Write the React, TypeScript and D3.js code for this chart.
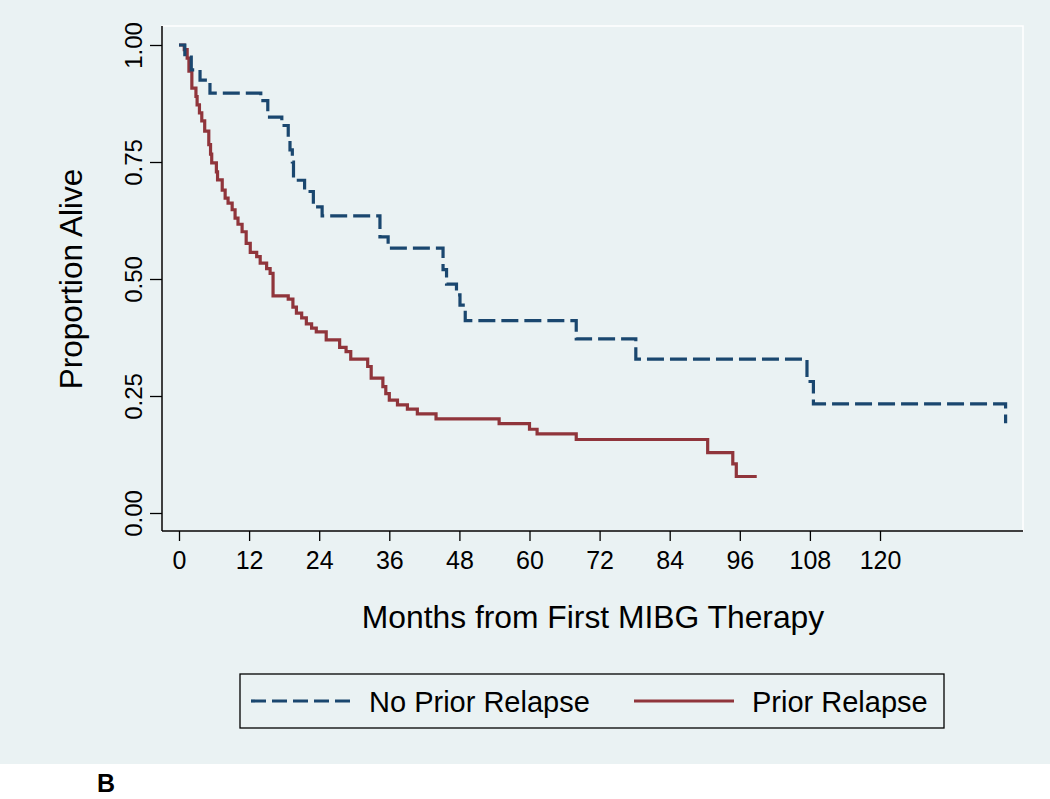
import React, { useEffect, useRef } from "react";
import * as d3 from "d3";

// Kaplan-Meier steps: [month, survival after the event]
const noPriorSteps: [number, number][] = [
  [1.0, 0.974], [2.1, 0.947], [3.6, 0.925], [5.3, 0.897], [14.0, 0.881],
  [15.2, 0.846], [17.6, 0.828], [18.7, 0.802], [19.0, 0.776], [19.4, 0.75],
  [19.6, 0.711], [21.5, 0.687], [23.0, 0.654], [24.5, 0.635], [34.4, 0.59],
  [35.8, 0.566], [45.2, 0.52], [45.8, 0.489], [47.5, 0.466], [48.1, 0.444],
  [49.0, 0.411], [68.0, 0.372], [78.2, 0.329], [107.5, 0.281], [108.6, 0.233],
  [141.5, 0.192],
];
const noPriorEnd = 141.5;

const priorSteps: [number, number][] = [
  [0.9, 0.99], [1.4, 0.972], [1.7, 0.944], [2.2, 0.908], [2.9, 0.89],
  [3.1, 0.872], [3.5, 0.855], [3.9, 0.838], [4.4, 0.816], [5.1, 0.787],
  [5.4, 0.767], [5.6, 0.748], [6.4, 0.729], [6.6, 0.712], [7.4, 0.69],
  [7.9, 0.673], [8.4, 0.662], [9.1, 0.648], [9.6, 0.63], [10.1, 0.617],
  [10.8, 0.601], [11.5, 0.576], [12.2, 0.557], [13.3, 0.548], [13.9, 0.534],
  [15.0, 0.522], [15.6, 0.512], [16.1, 0.464], [18.7, 0.457], [19.5, 0.44],
  [20.1, 0.427], [21.0, 0.417], [21.8, 0.404], [22.7, 0.395], [23.5, 0.387],
  [25.2, 0.37], [27.5, 0.354], [28.6, 0.345], [29.4, 0.329], [32.3, 0.313],
  [32.9, 0.288], [34.9, 0.27], [35.4, 0.255], [36.0, 0.241], [37.4, 0.231],
  [39.1, 0.222], [40.8, 0.212], [44.0, 0.201], [54.8, 0.191], [60.0, 0.179],
  [61.3, 0.169], [68.0, 0.157], [90.5, 0.129], [94.8, 0.105], [95.4, 0.078],
];
const priorEnd = 98.9;

const xTicks = [0, 12, 24, 36, 48, 60, 72, 84, 96, 108, 120];
const yTicks = [0, 0.25, 0.5, 0.75, 1];
const seriesNames = ["No Prior Relapse", "Prior Relapse"];

const BLUE = "#1a476f";
const RED = "#90353b";
const BG = "#eaf2f3";
const FONT = "'Liberation Sans', Arial, Helvetica, sans-serif";

function buildCurve(steps: [number, number][], end: number): [number, number][] {
  const pts: [number, number][] = [[0, 1], ...steps];
  const last = pts[pts.length - 1];
  if (last[0] < end) pts.push([end, last[1]]);
  return pts;
}

export default function App() {
  const svgRef = useRef<SVGSVGElement>(null);

  useEffect(() => {
    const svg = d3.select(svgRef.current);
    svg.selectAll("*").remove();

    const frame = { left: 162, right: 1023, top: 26, bottom: 531 };
    const x = d3.scaleLinear().domain([0, 120]).range([179, 880]);
    const y = d3.scaleLinear().domain([0, 1]).range([513, 45]);

    // background
    svg.append("rect").attr("width", 1050).attr("height", 764).attr("fill", BG);
    svg.append("rect")
      .attr("x", frame.left).attr("y", frame.top)
      .attr("width", frame.right - frame.left).attr("height", frame.bottom - frame.top)
      .attr("fill", BG).attr("stroke", "#ffffff").attr("stroke-width", 1.5);

    // x axis
    const gx = svg.append("g").attr("transform", `translate(0,${frame.bottom})`)
      .call(d3.axisBottom(x).tickValues(xTicks).tickSize(10).tickPadding(10).tickFormat(d3.format("d")));
    gx.select(".domain").remove();
    gx.selectAll("line").attr("stroke", "#000").attr("stroke-width", 1.3);
    gx.selectAll("text").attr("font-family", FONT).attr("font-size", 25).attr("fill", "#000");
    svg.append("line")
      .attr("x1", frame.left).attr("x2", frame.right)
      .attr("y1", frame.bottom).attr("y2", frame.bottom)
      .attr("stroke", "#000").attr("stroke-width", 1.5);

    // y axis
    const gy = svg.append("g").attr("transform", `translate(${frame.left},0)`)
      .call(d3.axisLeft(y).tickValues(yTicks).tickSize(12).tickFormat(d3.format(".2f")));
    gy.select(".domain").remove();
    gy.selectAll("line").attr("stroke", "#000").attr("stroke-width", 1.3);
    gy.selectAll("text")
      .attr("font-family", FONT).attr("font-size", 24).attr("fill", "#000")
      .attr("x", null).attr("dy", null)
      .attr("text-anchor", "middle")
      .attr("transform", "translate(-20,0) rotate(-90)");
    svg.append("line")
      .attr("x1", frame.left).attr("x2", frame.left)
      .attr("y1", frame.top).attr("y2", frame.bottom)
      .attr("stroke", "#000").attr("stroke-width", 1.5);

    // titles
    svg.append("text")
      .attr("x", 593).attr("y", 628).attr("text-anchor", "middle")
      .attr("font-family", FONT).attr("font-size", 31.8)
      .text("Months from First MIBG Therapy");
    svg.append("text")
      .attr("transform", "translate(82,279) rotate(-90)").attr("text-anchor", "middle")
      .attr("font-family", FONT).attr("font-size", 31.5)
      .text("Proportion Alive");

    // curves
    const line = d3.line<[number, number]>()
      .x((d) => x(d[0])).y((d) => y(d[1]))
      .curve(d3.curveStepAfter);

    svg.append("path")
      .attr("d", line(buildCurve(priorSteps, priorEnd)))
      .attr("fill", "none").attr("stroke", RED).attr("stroke-width", 3.2);
    svg.append("path")
      .attr("d", line(buildCurve(noPriorSteps, noPriorEnd)))
      .attr("fill", "none").attr("stroke", BLUE).attr("stroke-width", 3.2)
      .attr("stroke-dasharray", "17 6");

    // legend
    const lg = svg.append("g");
    lg.append("rect")
      .attr("x", 240).attr("y", 674).attr("width", 704).attr("height", 54)
      .attr("fill", BG).attr("stroke", "#000").attr("stroke-width", 1.3);
    lg.append("line").attr("x1", 251).attr("x2", 352).attr("y1", 701).attr("y2", 701)
      .attr("stroke", BLUE).attr("stroke-width", 3.2).attr("stroke-dasharray", "15 6");
    lg.append("text").attr("x", 369).attr("y", 712)
      .attr("font-family", FONT).attr("font-size", 29).text(seriesNames[0]);
    lg.append("line").attr("x1", 634).attr("x2", 734).attr("y1", 701).attr("y2", 701)
      .attr("stroke", RED).attr("stroke-width", 3.2);
    lg.append("text").attr("x", 752).attr("y", 712)
      .attr("font-family", FONT).attr("font-size", 29).text(seriesNames[1]);

    // panel letter
    svg.append("text").attr("x", 97).attr("y", 792)
      .attr("font-family", FONT).attr("font-size", 25).attr("font-weight", "bold")
      .text("B");
  }, []);

  return (
    <svg
      ref={svgRef}
      width={1050}
      height={799}
      style={{ position: "absolute", left: 0, top: 0, background: "#fff" }}
    />
  );
}
